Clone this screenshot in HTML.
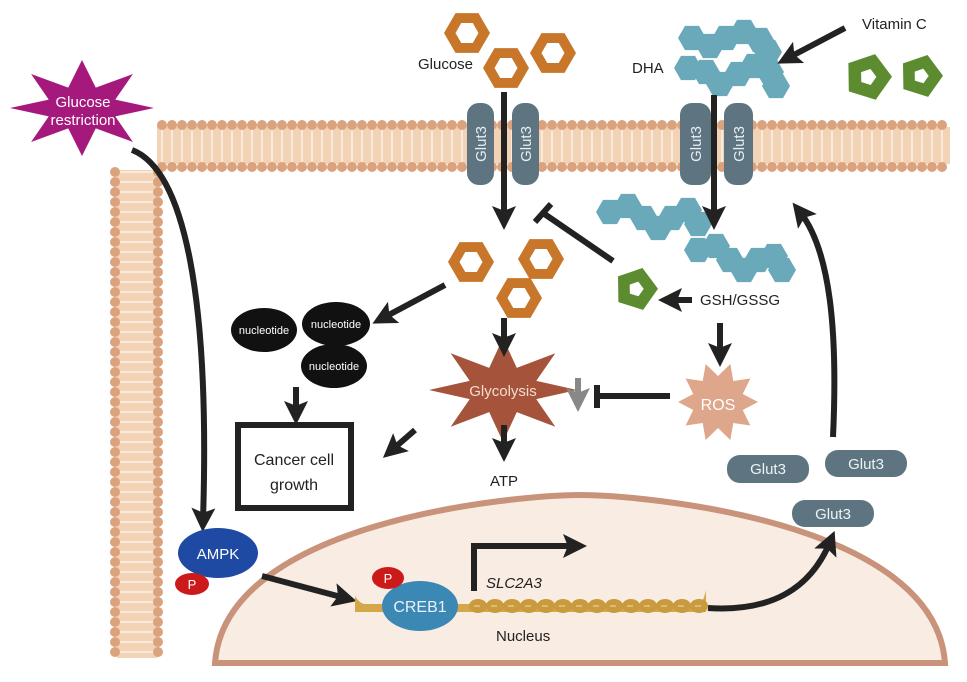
<!DOCTYPE html>
<html><head><meta charset="utf-8">
<style>
html,body{margin:0;padding:0;background:#fff;}
svg{display:block;}
text{font-family:"Liberation Sans",sans-serif;}
</style></head>
<body>
<svg id="s" width="967" height="682" viewBox="0 0 967 682" xmlns="http://www.w3.org/2000/svg">
<defs>
<marker id="ah" markerWidth="4" markerHeight="4" refX="2" refY="2" orient="auto" markerUnits="strokeWidth">
<path d="M0,0 L4,2 L0,4 L0.8,2 Z" fill="#222"/>
</marker>
<marker id="ahg" markerWidth="4" markerHeight="4" refX="2" refY="2" orient="auto" markerUnits="strokeWidth">
<path d="M0,0 L4,2 L0,4 L0.8,2 Z" fill="#888"/>
</marker>
</defs>
<g id="mem"></g>

<path d="M215,663 C225,520 520,495 580,495 C640,495 935,520 945,663 Z" fill="#f9ece2" stroke="#c8937a" stroke-width="6"/>

<g fill="#5e7581">
<rect x="467" y="103" width="27" height="82" rx="12"/>
<rect x="512" y="103" width="27" height="82" rx="12"/>
<rect x="680" y="103" width="31" height="82" rx="12"/>
<rect x="724" y="103" width="29" height="82" rx="12"/>
</g>
<g fill="#e6eef2" font-size="15">
<text transform="translate(486,144) rotate(-90)" text-anchor="middle">Glut3</text>
<text transform="translate(531,144) rotate(-90)" text-anchor="middle">Glut3</text>
<text transform="translate(701,144) rotate(-90)" text-anchor="middle">Glut3</text>
<text transform="translate(744,144) rotate(-90)" text-anchor="middle">Glut3</text>
</g>

<g id="shapes"></g>

<polygon id="gr" fill="#a5197c"/>
<text x="83" y="107" text-anchor="middle" fill="#fff" font-size="15">Glucose</text>
<text x="83" y="125" text-anchor="middle" fill="#fff" font-size="15">restriction</text>
<polygon id="gly" fill="#a5533a"/>
<text x="503" y="396" text-anchor="middle" fill="#f4dcd0" font-size="15">Glycolysis</text>
<polygon id="ros" fill="#dea68a"/>
<text x="718" y="410" text-anchor="middle" fill="#fff" font-size="16">ROS</text>

<ellipse cx="264" cy="330" rx="33" ry="22" fill="#111"/>
<ellipse cx="336" cy="324" rx="34" ry="22" fill="#111"/>
<ellipse cx="334" cy="366" rx="33" ry="22" fill="#111"/>
<g fill="#fff" font-size="11" text-anchor="middle">
<text x="264" y="334">nucleotide</text>
<text x="336" y="328">nucleotide</text>
<text x="334" y="370">nucleotide</text>
</g>

<rect x="238" y="425" width="113" height="83" fill="#fff" stroke="#222" stroke-width="6"/>
<text x="294" y="465" text-anchor="middle" font-size="16" fill="#222">Cancer cell</text>
<text x="294" y="490" text-anchor="middle" font-size="16" fill="#222">growth</text>

<g stroke="#222" stroke-width="6" fill="none">
<line x1="504" y1="92" x2="504" y2="218" marker-end="url(#ah)"/>
<line x1="714" y1="95" x2="714" y2="218" marker-end="url(#ah)"/>
<line x1="845" y1="28" x2="788" y2="58" marker-end="url(#ah)"/>
<line x1="613" y1="261" x2="543" y2="213"/>
<line x1="535" y1="222" x2="551" y2="204"/>
<line x1="445" y1="285" x2="383" y2="318" marker-end="url(#ah)"/>
<line x1="692" y1="300" x2="670" y2="300" marker-end="url(#ah)"/>
<line x1="720" y1="323" x2="720" y2="355" marker-end="url(#ah)"/>
<line x1="670" y1="396" x2="597" y2="396"/>
<line x1="597" y1="385" x2="597" y2="408"/>
<line x1="504" y1="318" x2="504" y2="345" marker-end="url(#ah)"/>
<line x1="504" y1="425" x2="504" y2="450" marker-end="url(#ah)"/>
<line x1="415" y1="430" x2="392" y2="450" marker-end="url(#ah)"/>
<line x1="296" y1="387" x2="296" y2="413" marker-end="url(#ah)"/>
<path d="M132,150 C185,170 210,300 203,520" marker-end="url(#ah)"/>
<line x1="262" y1="576" x2="345" y2="598" marker-end="url(#ah)"/>
<path d="M708,608 C770,612 810,590 830,542" marker-end="url(#ah)"/>
<path d="M833,437 C838,330 830,250 800,212" marker-end="url(#ah)"/>
<path d="M474,591 L474,546 L575,546" marker-end="url(#ah)"/>
</g>
<line x1="578" y1="378" x2="578" y2="400" stroke="#888" stroke-width="6" marker-end="url(#ahg)"/>

<g font-size="15" fill="#222">
<text x="418" y="69">Glucose</text>
<text x="632" y="73">DHA</text>
<text x="862" y="29">Vitamin C</text>
<text x="700" y="305">GSH/GSSG</text>
<text x="490" y="486">ATP</text>
<text x="486" y="588" font-style="italic">SLC2A3</text>
<text x="496" y="641">Nucleus</text>
</g>

<g fill="#5e7581">
<rect x="727" y="455" width="82" height="28" rx="13"/>
<rect x="825" y="450" width="82" height="27" rx="13"/>
<rect x="792" y="500" width="82" height="27" rx="13"/>
</g>
<g fill="#eef3f5" font-size="15" text-anchor="middle">
<text x="768" y="474">Glut3</text>
<text x="866" y="469">Glut3</text>
<text x="833" y="519">Glut3</text>
</g>

<g id="dna"></g>

<ellipse cx="218" cy="553" rx="40" ry="25" fill="#1e4aa3"/>
<text x="218" y="559" text-anchor="middle" fill="#fff" font-size="15">AMPK</text>
<ellipse cx="192" cy="584" rx="17" ry="11" fill="#cc1a1a"/>
<text x="192" y="589" text-anchor="middle" fill="#fff" font-size="13">P</text>
<ellipse cx="420" cy="606" rx="38" ry="25" fill="#3b88b5"/>
<text x="420" y="612" text-anchor="middle" fill="#e8f2f8" font-size="16">CREB1</text>
<ellipse cx="388" cy="578" rx="16" ry="11" fill="#cc1a1a"/>
<text x="388" y="583" text-anchor="middle" fill="#fff" font-size="13">P</text>
</svg>
<script>
var NS="http://www.w3.org/2000/svg";
function el(p,t,a){var e=document.createElementNS(NS,t);for(var k in a)e.setAttribute(k,a[k]);p.appendChild(e);return e;}
var m=document.getElementById('mem');
var HC='#dba27e', BC='#f3d3b5';
el(m,'rect',{x:157,y:127,width:793,height:37,fill:BC});
for(var x=162;x<950;x+=10){el(m,'line',{x1:x,y1:127,x2:x,y2:164,stroke:'#fff','stroke-width':1.5,opacity:.7});
el(m,'circle',{cx:x,cy:125,r:5,fill:HC});el(m,'circle',{cx:x,cy:167,r:5,fill:HC});}
el(m,'rect',{x:117,y:170,width:40,height:488,fill:BC});
for(var y=172;y<660;y+=10){el(m,'line',{x1:117,y1:y,x2:157,y2:y,stroke:'#fff','stroke-width':1.5,opacity:.7});
el(m,'circle',{cx:115,cy:y,r:5,fill:HC});el(m,'circle',{cx:158,cy:y,r:5,fill:HC});}
var sh=document.getElementById('shapes');
function hex(cx,cy,r){var p=[];for(var i=0;i<6;i++){var a=Math.PI/3*i;p.push((cx+r*Math.cos(a))+','+(cy+r*Math.sin(a)));}
var q=[];for(var i=0;i<6;i++){var a=Math.PI/3*i;q.push((cx+r*0.5*Math.cos(a))+','+(cy+r*0.5*Math.sin(a)));}
el(sh,'path',{d:'M'+p.join('L')+'Z M'+q.join('L')+'Z',fill:'#c8772a','fill-rule':'evenodd'});}
[[467,33,23],[506,68,23],[553,53,23],[471,262,23],[541,259,23],[519,298,23]].forEach(function(h){hex(h[0],h[1],h[2]);});
function shex(cx,cy,r){var p=[];for(var i=0;i<6;i++){var a=Math.PI/3*i;p.push((cx+r*Math.cos(a))+','+(cy+r*Math.sin(a)));}el(sh,'polygon',{points:p.join(' '),fill:'#6aa9b9'});}
function chain(pts){pts.forEach(function(p){shex(p[0],p[1],14);});}
chain([[692,38],[710,46],[726,38],[744,32],[760,40],[768,52]]);
chain([[688,68],[706,72],[720,84],[738,74],[754,66],[770,72],[776,86]]);
chain([[610,212],[628,206],[644,218],[658,228],[672,218],[688,210],[698,224]]);
chain([[698,250],[716,246],[730,260],[744,270],[758,260],[774,256],[782,270]]);
function pent(cx,cy,r){var p=[],q=[];for(var i=0;i<5;i++){var a=-Math.PI/2+2*Math.PI/5*i+0.3;p.push((cx+r*Math.cos(a))+','+(cy+r*Math.sin(a)));q.push((cx+r*0.35*Math.cos(a))+','+(cy+r*0.35*Math.sin(a)));}
el(sh,'path',{d:'M'+p.join('L')+'Z M'+q.join('L')+'Z',fill:'#5c8c2f','fill-rule':'evenodd'});}
pent(868,77,24);pent(921,76,22);pent(636,289,22);
function star(id,cx,cy,n,rx,ry,ix,iy,rot){var p=[];for(var i=0;i<2*n;i++){var a=rot+Math.PI*i/n;var o=i%2==0;p.push((cx+(o?rx:ix)*Math.cos(a))+','+(cy+(o?ry:iy)*Math.sin(a)));}document.getElementById(id).setAttribute('points',p.join(' '));}
star('gr',82,108,8,72,48,36,22,0);
star('gly',503,390,8,74,52,36,24,0);
star('ros',718,402,10,40,40,26,26,0);
var d=document.getElementById('dna');
el(d,'path',{d:'M355,596 Q360,604 365,604 L700,604 Q704,600 706,590 L706,612 L355,612 Z',fill:'#d4a748'});
for(var x=470;x<700;x+=17){el(d,'ellipse',{cx:x+8,cy:606,rx:9,ry:7,fill:'#c99a3e'});el(d,'line',{x1:x+4,y1:606,x2:x+10,y2:606,stroke:'#e6c580','stroke-width':1.5});}
</script>
</body></html>
